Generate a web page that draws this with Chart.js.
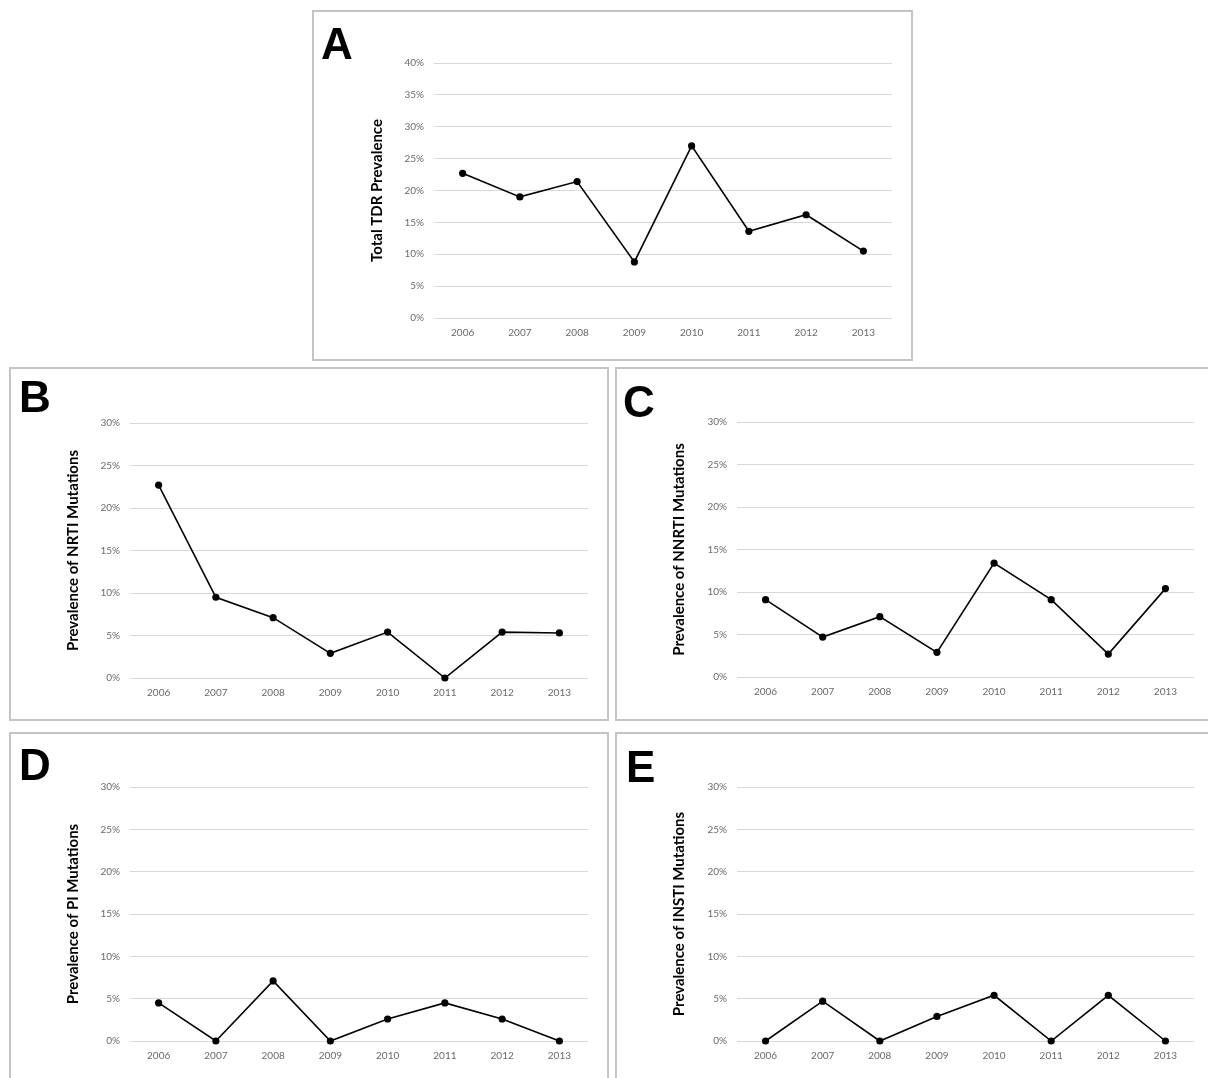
<!DOCTYPE html>
<html>
<head>
<meta charset="utf-8">
<script src="https://cdn.jsdelivr.net/npm/chart.js@4/dist/chart.umd.min.js"></script>
<style>
  html, body { margin: 0; padding: 0; background: #fff; overflow: hidden; }
  body { width: 1208px; height: 1078px; position: relative; }
  .panel { position: absolute; }
  .panel canvas { position: absolute; left: 0; top: 0; }
  .letter { position: absolute; font: bold 44px "Liberation Sans", Arial, sans-serif; line-height: 1; color: #000; }
</style>
</head>
<body>
<div class="panel" id="pA" style="left:312px;top:10px;width:601px;height:351px"><canvas id="chartA" width="601" height="351"></canvas></div>
<div class="panel" id="pB" style="left:9px;top:367px;width:600px;height:354px"><canvas id="chartB" width="600" height="354"></canvas></div>
<div class="panel" id="pC" style="left:615px;top:367px;width:596px;height:354px"><canvas id="chartC" width="596" height="354"></canvas></div>
<div class="panel" id="pD" style="left:9px;top:732px;width:600px;height:360px"><canvas id="chartD" width="600" height="360"></canvas></div>
<div class="panel" id="pE" style="left:615px;top:732px;width:596px;height:360px"><canvas id="chartE" width="596" height="360"></canvas></div>
<div class="letter" style="left:321px;top:22px">A</div>
<div class="letter" style="left:19px;top:375px">B</div>
<div class="letter" style="left:623px;top:380px">C</div>
<div class="letter" style="left:19px;top:743px">D</div>
<div class="letter" style="left:626px;top:745px">E</div>
<script>
// years on the x axis
const years = ['2006', '2007', '2008', '2009', '2010', '2011', '2012', '2013'];

// prevalence values, in percent
const totalTdr = [22.7, 19.0, 21.4, 8.8, 27.0, 13.6, 16.2, 10.5];
const nrti     = [22.7, 9.5, 7.1, 2.9, 5.4, 0, 5.4, 5.3];
const nnrti    = [9.1, 4.7, 7.1, 2.9, 13.4, 9.1, 2.7, 10.4];
const pi       = [4.5, 0, 7.1, 0, 2.6, 4.5, 2.6, 0];
const insti    = [0, 4.7, 0, 2.9, 5.4, 0, 5.4, 0];

// y axis ranges
const maxA = 40;
const maxOthers = 30;
const tickStep = 5;

// panel frame
const framePlugin = {
	id: 'frame',
	beforeDraw(chart) {
		const ctx = chart.ctx;
		ctx.save();
		ctx.strokeStyle = '#c4c4c4';
		ctx.lineWidth = 2;
		ctx.strokeRect(1, 1, chart.width - 2, chart.height - 2);
		ctx.restore();
	}
};

function makeChart(id, values, yMax, yTitle, lay) {
	const el = document.getElementById(id).getContext('2d');
	return new Chart(el, {
		type: 'line',
		data: {
			labels: years,
			datasets: [{
				data: values,
				borderColor: '#000',
				borderWidth: 1.6,
				tension: 0,
				pointRadius: 3.6,
				pointBackgroundColor: '#000',
				pointBorderWidth: 0,
				clip: false
			}]
		},
		plugins: [framePlugin],
		options: {
			responsive: false,
			animation: false,
			devicePixelRatio: 1,
			layout: { padding: { left: 0, right: lay.padRight, top: lay.padTop, bottom: 0 } },
			plugins: { legend: { display: false }, tooltip: { enabled: false } },
			scales: {
				x: {
					offset: true,
					grid: { display: false },
					border: { display: false },
					ticks: { color: '#6a6a6a', font: { family: 'Lato', size: 10 }, padding: 1, maxRotation: 0 },
					afterFit: s => { s.height = lay.xHeight; }
				},
				y: {
					min: 0,
					max: yMax,
					grid: { color: '#d9d9d9', lineWidth: 1, drawTicks: false },
					border: { display: false },
					ticks: {
						stepSize: tickStep,
						color: '#6a6a6a',
						font: { family: 'Lato', size: 10 },
						padding: 10,
						callback: v => v + '%'
					},
					title: {
						display: true,
						text: yTitle,
						color: '#000',
						font: { family: 'Lato', size: 15, weight: 'bold' },
						padding: { top: lay.titleX - 9, bottom: 0 }
					},
					afterFit: s => { s.width = lay.yWidth; }
				}
			}
		}
	});
}

document.addEventListener('DOMContentLoaded', () => {
	makeChart('chartA', totalTdr, maxA, 'Total TDR Prevalence',
		{ yWidth: 122, padRight: 21, padTop: 53, xHeight: 43, titleX: 65 });
	makeChart('chartB', nrti, maxOthers, 'Prevalence of NRTI Mutations',
		{ yWidth: 121, padRight: 21, padTop: 56, xHeight: 43, titleX: 64 });
	makeChart('chartC', nnrti, maxOthers, 'Prevalence of NNRTI Mutations',
		{ yWidth: 122, padRight: 17, padTop: 55, xHeight: 44, titleX: 64 });
	makeChart('chartD', pi, maxOthers, 'Prevalence of PI Mutations',
		{ yWidth: 121, padRight: 21, padTop: 55, xHeight: 51, titleX: 64 });
	makeChart('chartE', insti, maxOthers, 'Prevalence of INSTI Mutations',
		{ yWidth: 122, padRight: 17, padTop: 55, xHeight: 51, titleX: 64 });
});
</script>
</body>
</html>
